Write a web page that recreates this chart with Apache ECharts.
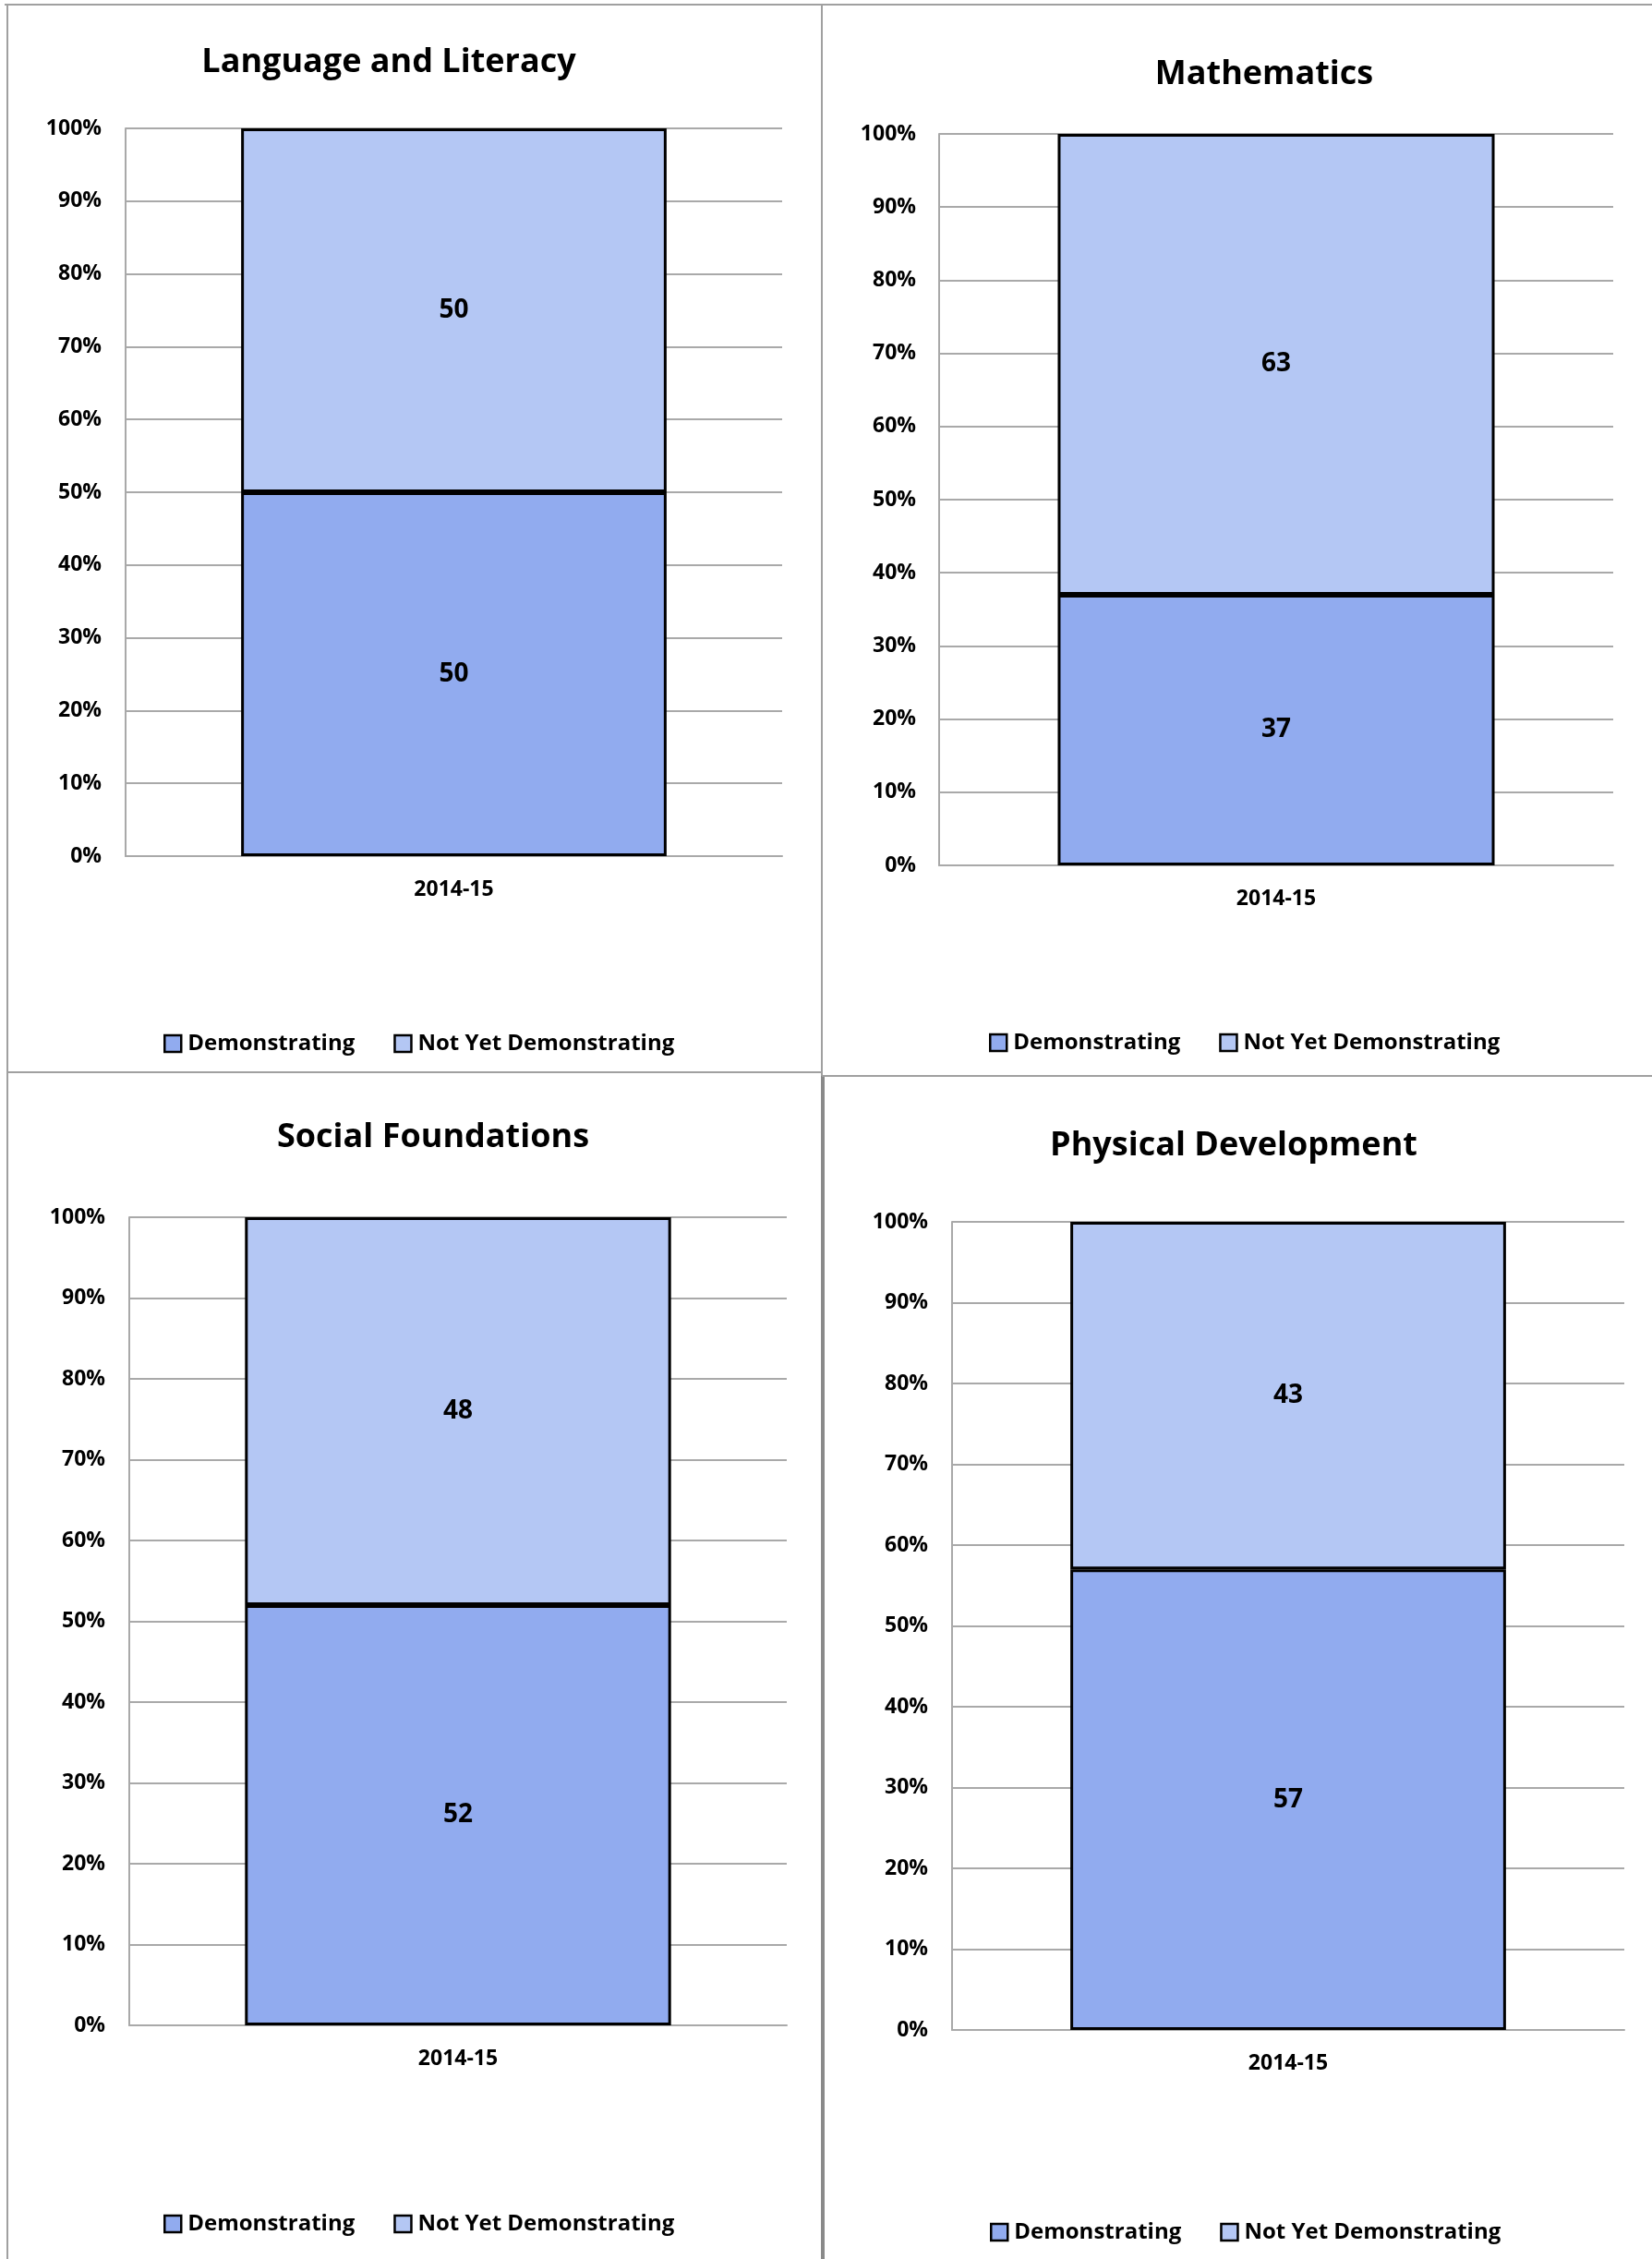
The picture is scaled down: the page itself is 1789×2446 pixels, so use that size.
<!DOCTYPE html>
<html>
<head>
<meta charset="utf-8">
<title>Demonstrating vs Not Yet Demonstrating, 2014-15</title>
<script src="https://cdn.jsdelivr.net/npm/echarts@6/dist/echarts.min.js"></script>
<style>
  html, body { margin: 0; padding: 0; background: #fff; }
  #chart { width: 1789px; height: 2446px; }
</style>
</head>
<body>
<div id="chart"></div>
<script>
// values
const domains = ['Language and Literacy', 'Mathematics', 'Social Foundations', 'Physical Development']
const years = ['2014-15']
const demonstrating = [50, 37, 52, 57]
const notYetDemonstrating = [50, 63, 48, 43]
const seriesNames = ['Demonstrating', 'Not Yet Demonstrating']

// page layout of the four panels (px): grid = [left, top, width, height]
const panels = [
  { grid: [136, 139, 711, 788], title: [421, 68], legend: [177, 1118], margin: 26 },
  { grid: [1017, 145, 730, 792], title: [1369, 81], legend: [1071, 1117], margin: 25 },
  { grid: [140, 1318, 712, 875], title: [469, 1232], legend: [177, 2396], margin: 26 },
  { grid: [1031, 1323, 728, 875], title: [1336, 1241], legend: [1072, 2405], margin: 26 }
]

const FONT = '"Open Sans", sans-serif'
const COLORS = ['#91abef', '#b4c7f4']
const GRID_LINE = '#a9a9a9'

const chart = echarts.init(document.getElementById('chart'), null, { renderer: 'canvas' })

const option = {
  animation: false,
  backgroundColor: '#fff',
  title: panels.map((p, i) => ({
    text: domains[i],
    left: p.title[0],
    top: p.title[1],
    textAlign: 'center',
    textVerticalAlign: 'middle',
    padding: 0,
    textStyle: { fontFamily: FONT, fontWeight: 'bold', fontSize: 36, color: '#000' }
  })),
  legend: panels.map(p => ({
    data: seriesNames,
    left: p.legend[0],
    top: p.legend[1],
    padding: 0,
    itemGap: 42,
    itemWidth: 18,
    itemHeight: 18,
    icon: 'rect',
    selectedMode: false,
    itemStyle: { borderColor: '#000', borderWidth: 2.5 },
    textStyle: { fontFamily: FONT, fontWeight: 'bold', fontSize: 24, color: '#000', padding: [0, 0, 0, 2] }
  })),
  grid: panels.map(p => ({
    left: p.grid[0], top: p.grid[1], width: p.grid[2], height: p.grid[3],
    containLabel: false
  })),
  xAxis: panels.map((p, i) => ({
    type: 'category',
    gridIndex: i,
    data: years,
    axisLine: { lineStyle: { color: GRID_LINE, width: 2 } },
    axisTick: { show: false },
    axisLabel: { margin: 25, fontFamily: FONT, fontWeight: 'bold', fontSize: 23, color: '#000' }
  })),
  yAxis: panels.map((p, i) => ({
    type: 'value',
    gridIndex: i,
    min: 0,
    max: 100,
    interval: 10,
    axisLine: { show: true, lineStyle: { color: GRID_LINE, width: 2 } },
    axisTick: { show: false },
    splitLine: { lineStyle: { color: GRID_LINE, width: 2 } },
    axisLabel: { margin: p.margin, formatter: '{value}%', fontFamily: FONT, fontWeight: 'bold', fontSize: 23, color: '#000' }
  })),
  series: [],
  graphic: [
    // panel frames
    { type: 'line', shape: { x1: 5, y1: 5, x2: 1789, y2: 5 }, style: { stroke: '#a0a0a0', lineWidth: 2 } },
    { type: 'line', shape: { x1: 8, y1: 5, x2: 8, y2: 2446 }, style: { stroke: '#a0a0a0', lineWidth: 2 } },
    { type: 'line', shape: { x1: 890, y1: 5, x2: 890, y2: 1165 }, style: { stroke: '#a0a0a0', lineWidth: 2 } },
    { type: 'line', shape: { x1: 891, y1: 1165, x2: 891, y2: 2446 }, style: { stroke: '#8a8a8a', lineWidth: 4 } },
    { type: 'line', shape: { x1: 8, y1: 1161, x2: 890, y2: 1161 }, style: { stroke: '#a0a0a0', lineWidth: 2 } },
    { type: 'line', shape: { x1: 890, y1: 1165, x2: 1789, y2: 1165 }, style: { stroke: '#a0a0a0', lineWidth: 2 } }
  ]
}

const values = [demonstrating, notYetDemonstrating]
panels.forEach((p, i) => {
  seriesNames.forEach((name, k) => {
    option.series.push({
      name: name,
      type: 'bar',
      stack: 'panel' + i,
      xAxisIndex: i,
      yAxisIndex: i,
      barWidth: '64.8%',
      data: [values[k][i]],
      itemStyle: { color: COLORS[k], borderColor: '#000', borderWidth: 3 },
      label: {
        show: true,
        position: 'inside',
        fontFamily: FONT,
        fontWeight: 'bold',
        fontSize: 28,
        color: '#000'
      }
    })
  })
})

chart.setOption(option)
</script>
</body>
</html>
